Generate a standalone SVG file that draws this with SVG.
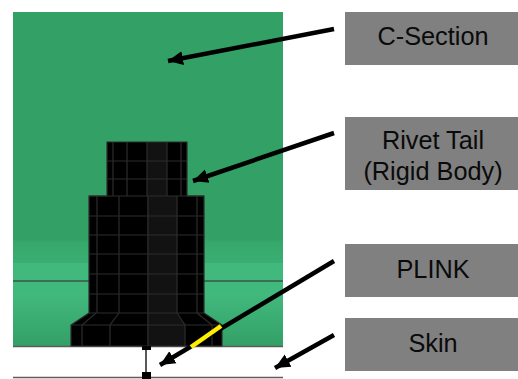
<svg xmlns="http://www.w3.org/2000/svg" width="518" height="379" viewBox="0 0 518 379">
<style>
.box{fill:#808080}
.lbl{font-family:"Liberation Sans",Arial,sans-serif;font-size:25.300px;fill:#0a0a0a;text-anchor:middle}
.mesh{stroke:#2c2c2c;stroke-width:1.200;fill:none}
.arrow{stroke:#000;stroke-width:4.500;fill:none}
</style>
<defs>
<linearGradient id="g" x1="0" y1="12" x2="0" y2="346" gradientUnits="userSpaceOnUse">
<stop offset="0" stop-color="#33a066"/><stop offset="0.68" stop-color="#33a066"/><stop offset="0.69" stop-color="#37a86c"/><stop offset="0.75" stop-color="#3aae72"/><stop offset="0.751" stop-color="#41b87c"/><stop offset="0.85" stop-color="#41b87c"/><stop offset="1" stop-color="#33a066"/>
</linearGradient>
<marker id="ah" markerUnits="userSpaceOnUse" markerWidth="18" markerHeight="18" refX="15" refY="9" orient="auto"><path d="M0 2L15 9L0 16Z" fill="#000"/></marker>
</defs>
<g id="c-section-part">
<rect x="13" y="12" width="270" height="334" fill="url(#g)"/>
<path d="M13 281H90M204 281H283" stroke="#3a5547" stroke-width="1.500" fill="none"/>
</g>
<g id="skin-part">
<path d="M13 346.500H283M13 377.500H283" stroke="#5c5c5c" stroke-width="1.500" fill="none"/>
</g>
<g id="rivet">
<path d="M107 142H187V196H204V313L222 325V346H71V325L89 313V196H107Z" fill="#000"/>
<path d="M147 142H167V196H177V313L185 325V346H147Z" fill="#121212"/>
<path class="mesh" d="M107 142H187V196H204V313L213 319L222 325V346H71V325L80 319L89 313V196H107Z"/>
<path class="mesh" d="M107 161H187M107 179H187M113 142V196M127 142V196M147 142V196M167 142V196M181 142V196"/>
<path class="mesh" d="M89 196H204M89 216H204M89 235H204M89 254H204M89 274H204M89 294H204M89 313H204M71 325H222"/>
<path class="mesh" d="M97 196V313M119 196V313M148 196V346M177 196V313M197 196V313"/>
<path class="mesh" d="M96 313L82 325V346M119 313L110 325V346M177 313L185 325V346M197 313L212 325V346"/>
</g>
<g id="plink">
<path d="M146 349V374" stroke="#222" stroke-width="1.500"/>
<rect x="142" y="346" width="9" height="4" fill="#000"/>
<rect x="142" y="372" width="9" height="7" fill="#000"/>
</g>
<g id="connectors">
<path class="arrow" d="M334 29L168 61" marker-end="url(#ah)"/>
<path class="arrow" d="M334 133L193 181" marker-end="url(#ah)"/>
<path class="arrow" d="M334 261L160 365" marker-end="url(#ah)"/>
<path d="M191 347L221 326" stroke="#ffee00" stroke-width="4.500" fill="none"/>
<path class="arrow" d="M334 335L275 368" marker-end="url(#ah)"/>
</g>
<g id="label-c-section"><rect class="box" x="345" y="12" width="173" height="53"/><text class="lbl" x="433" y="45">C-Section</text></g>
<g id="label-rivet-tail"><rect class="box" x="345" y="117" width="173" height="73"/><text class="lbl" x="433" y="149">Rivet Tail</text><text class="lbl" x="433" y="180">(Rigid Body)</text></g>
<g id="label-plink"><rect class="box" x="345" y="244" width="173" height="53"/><text class="lbl" x="433" y="278">PLINK</text></g>
<g id="label-skin"><rect class="box" x="345" y="318" width="173" height="53"/><text class="lbl" x="433" y="352">Skin</text></g>
</svg>
